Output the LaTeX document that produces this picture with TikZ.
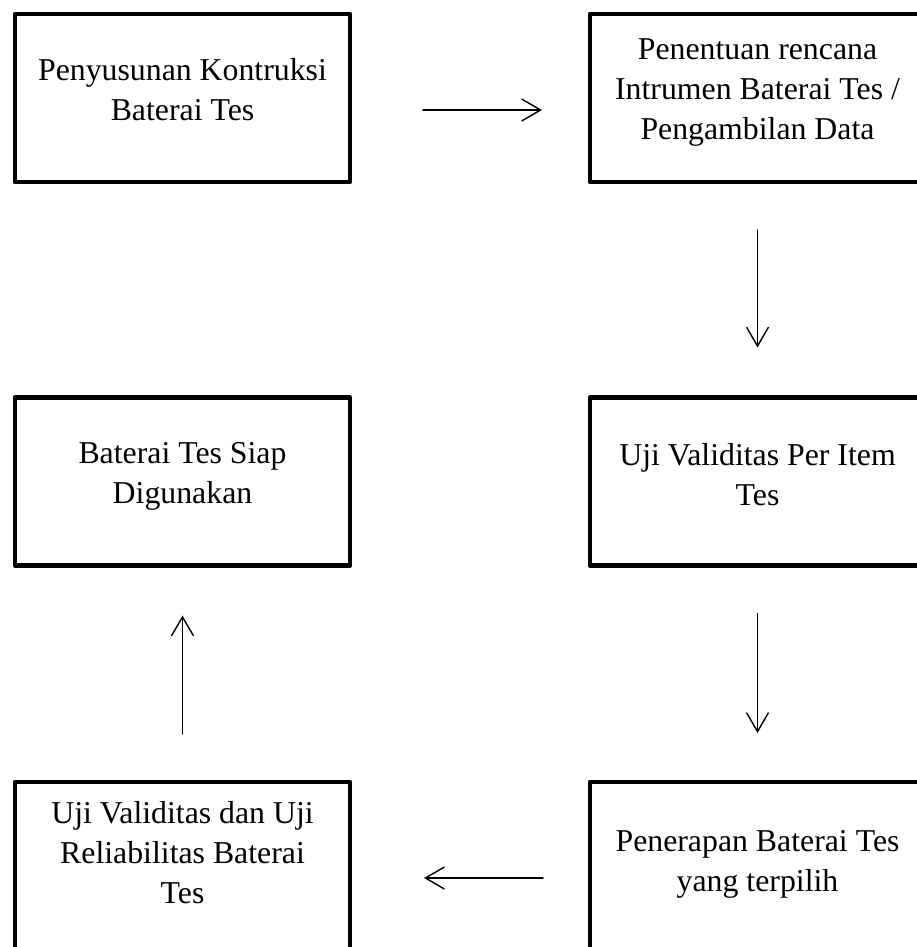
\documentclass[tikz,border=0pt]{standalone}
\usepackage{fontspec}
\setmainfont{Liberation Serif}
\usetikzlibrary{arrows.meta}
\newcommand{\Unit}{1pt}
\newcommand{\Frame}{4.8pt}
\newcommand{\Shaft}{1.4pt}
\newcommand{\BoxWide}{335pt}
\newcommand{\BoxTall}{168pt}
\newcommand{\Lift}{2.5pt}
\definecolor{ink}{HTML}{000000}
\definecolor{paper}{HTML}{FFFFFF}

\tikzset{
  stage/.style={draw=ink, fill=paper, line width=\Frame, line join=round,
    minimum width=\BoxWide, minimum height=\BoxTall, inner sep=0pt, outer sep=0pt},
  words/.style={text=ink, align=center, inner sep=0pt,
    font=\fontsize{31.8}{40}\selectfont,
    execute at begin node=\strut, execute at end node=\strut},
  flow/.style={draw=ink, line width=\Shaft,
    -{Straight Barb[length=19pt,width=22pt]}},
}

\begin{document}
\begin{tikzpicture}[x=\Unit,y=-\Unit, line cap=round]

  % ---- the page -----------------------------------------------------------
  % The two boxes on the right and the two at the bottom run off the sheet.
  \path[use as bounding box, clip] (0,0) rectangle (917,947);

  % ---- six stages, two columns --------------------------------------------
  \node[stage] (b1) at (182.5,98) {};
  \node[stage] (b2) at (757.5,98) {};
  \node[stage] (b3) at (757.5,481.5) {};
  \node[stage] (b4) at (182.5,481.5) {};
  \node[stage] (b5) at (182.5,866) {};
  \node[stage] (b6) at (757.5,866) {};

  % ---- what each stage says -----------------------------------------------
  \node[words] (t1) at ([yshift=\Lift]b1.center) {Penyusunan Kontruksi\\Baterai Tes};
  \node[words] (t2) at ([yshift=\Lift]b2.center) {Penentuan rencana\\Intrumen Baterai Tes /\\Pengambilan Data};
  \node[words] (t3) at ([yshift=1pt]b3.center) {Uji Validitas Per Item\\Tes};
  \node[words] (t4) at ([yshift=\Lift]b4.center) {Baterai Tes Siap\\Digunakan};
  \node[words] (t5) at ([yshift=8pt]b5.center) {Uji Validitas dan Uji\\Reliabilitas Baterai\\Tes};
  \node[words] (t6) at ([yshift=-1pt]b6.center) {Penerapan Baterai Tes\\yang terpilih};

  % ---- the arrows, loose in the gaps --------------------------------------
  \draw[flow, shorten <=73pt, shorten >=48pt] ([yshift=-12pt]b1.east) -- ([yshift=-12pt]b2.west);
  \draw[flow, shorten <=48pt, shorten >=50pt] (b2.south) -- (b3.north);
  \draw[flow, shorten <=48pt, shorten >=49pt] (b3.south) -- (b6.north);
  \draw[flow, shorten <=47pt, shorten >=74pt] ([yshift=-12pt]b6.west) -- ([yshift=-12pt]b5.east);
  \draw[flow, shorten <=48pt, shorten >=50pt] (b5.north) -- (b4.south);

\end{tikzpicture}
\end{document}
